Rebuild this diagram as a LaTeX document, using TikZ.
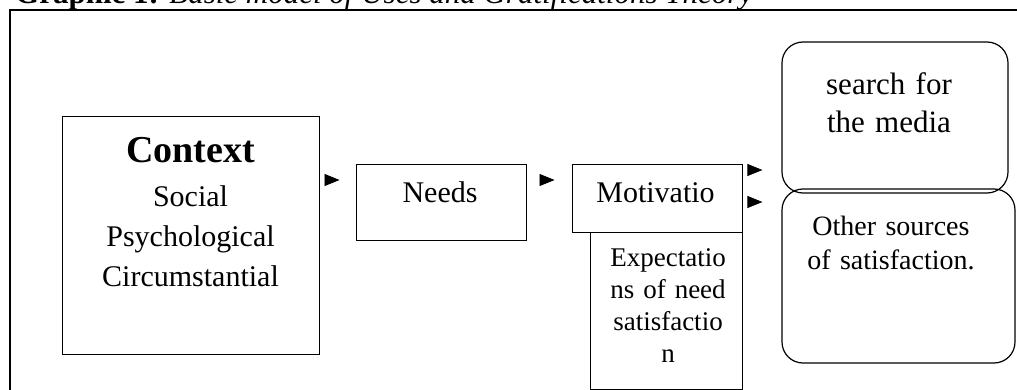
\documentclass[tikz,border=0pt]{standalone}
\usepackage{fontspec}
\setmainfont{Liberation Serif}
\usetikzlibrary{arrows.meta}

\begin{document}
\begin{tikzpicture}[x=1pt,y=-1pt,
                    box/.style={draw,line width=0.9pt,inner sep=0pt},
                    roundbox/.style={draw,line width=1.2pt,rounded corners=21pt,inner sep=0pt},
                    txt/.style={font=\fontsize{30}{40}\selectfont,align=center,inner sep=0pt},
                    headonly/.style={-{Triangle[length=15pt,width=12pt]},line width=0.8pt}]

                    \useasboundingbox (0,0) rectangle (1017,390);
                    \clip (0,0) rectangle (1017,390);

                    \node[anchor=base west,inner sep=0pt,font=\fontsize{31}{36}\selectfont] (title) at (15,4)
                        {\textbf{Graphic 1:} \textit{Basic model of Uses and Gratifications Theory}};
                    \draw[line width=1.3pt] (1017,10) -- (10,10) -- (10,390);

                    \node[box,minimum width=257pt,minimum height=238pt] (ctx) at (190.5,235) {};
                    \node[box,minimum width=170pt,minimum height=76pt] (needs) at (441,202) {};
                    \node[box,minimum width=170pt,minimum height=68pt] (mot) at (657,198) {};
                    \node[box,minimum width=152pt,minimum height=157pt] (expect) at (666,310.5) {};
                    \node[roundbox,minimum width=226pt,minimum height=151pt] (search) at (895,117.5) {};
                    \node[roundbox,minimum width=233pt,minimum height=174pt] (other) at (898.5,276) {};

                    \node[txt,text width=220pt,anchor=base] (ctxtxt) at (190.5,163)
                        {{\fontsize{38}{40}\selectfont\bfseries Context}\\[4pt] Social\\ Psychological\\ Circumstantial};
                    \node[txt,anchor=base] (needstxt) at (440,203) {Needs};
                    \node[txt,anchor=base] (mottxt) at (655.5,203) {Motivatio};
                    \node[txt,font=\fontsize{27}{32}\selectfont,text width=150pt,anchor=base] (expecttxt) at (668,266)
                        {Expectatio\\ ns of need\\ satisfactio\\ n};
                    \node[txt,font=\fontsize{31}{38}\selectfont,text width=200pt,anchor=base] (searchtxt) at (889,95)
                        {search for\\ the media};
                    \node[txt,font=\fontsize{28}{34}\selectfont,text width=210pt,anchor=base] (othertxt) at (891,235)
                        {Other sources\\ of satisfaction.};

                    \draw[headonly,shorten <=6pt,shorten >=16pt] (ctx.east |- 0,180) -- (needs.west |- 0,180);
                    \draw[headonly,shorten <=14pt,shorten >=17pt] (needs.east |- 0,180) -- (mot.west |- 0,180);
                    \draw[headonly,shorten <=6pt,shorten >=19pt] (mot.east |- 0,170) -- (search.west |- 0,170);
                    \draw[headonly,shorten <=6pt,shorten >=19pt] (mot.east |- 0,202) -- (other.west |- 0,202);
                \end{tikzpicture}
\end{document}
